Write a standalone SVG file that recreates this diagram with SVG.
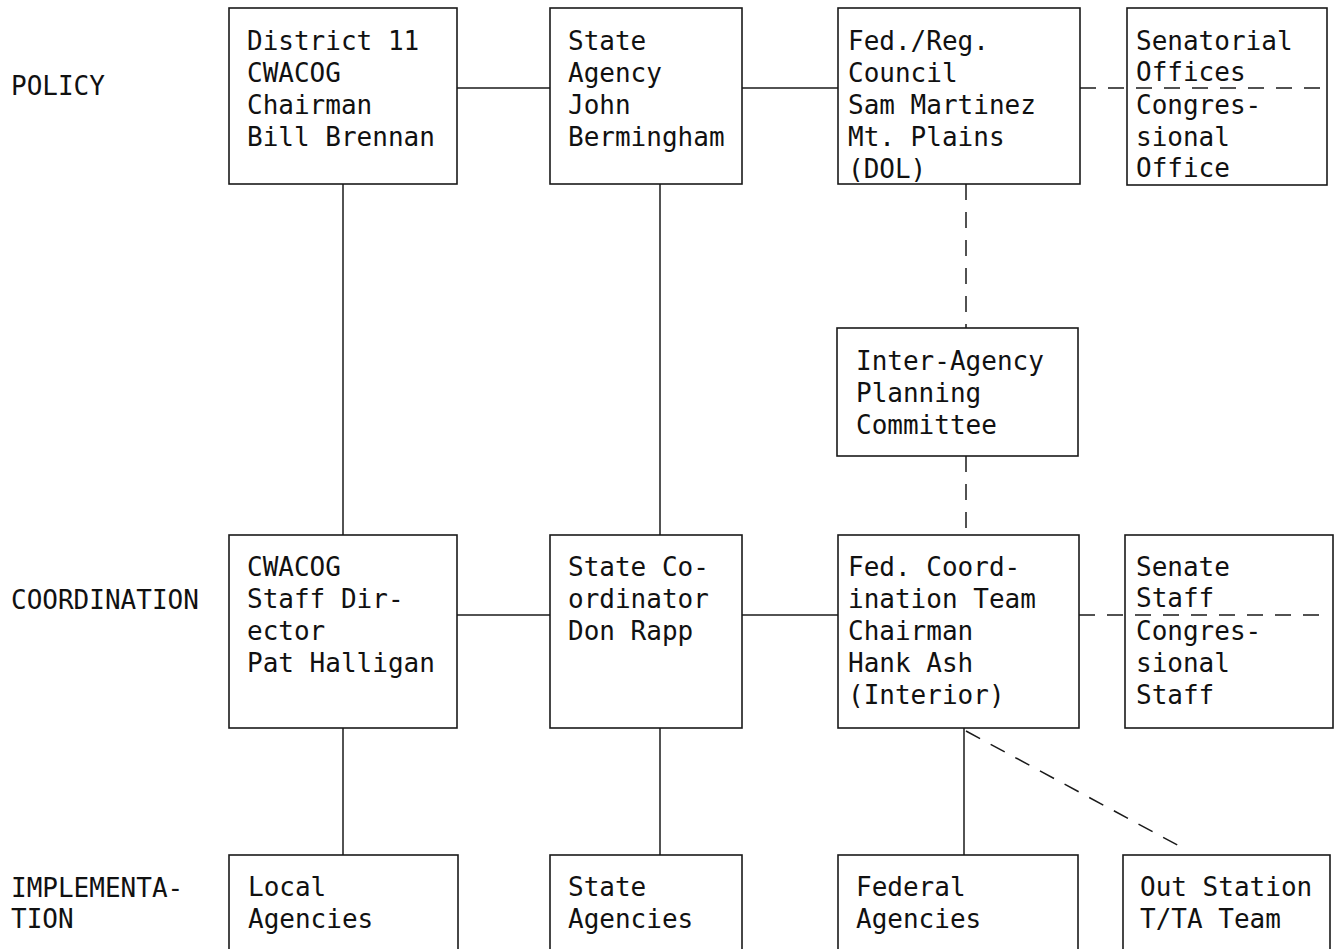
<svg xmlns="http://www.w3.org/2000/svg" width="1343" height="949" viewBox="0 0 1343 949">
<style>
.box{fill:none;stroke:#1a1a1a;stroke-width:1.6}
.ln{fill:none;stroke:#1a1a1a;stroke-width:1.5}
.dash{fill:none;stroke:#1a1a1a;stroke-width:1.5;stroke-dasharray:16 12}
text{font-family:"DejaVu Sans Mono","Liberation Mono",monospace;font-size:26px;fill:#111}
</style>
<rect width="1343" height="949" fill="#fff"/>
<g id="labels">
<text x="11" y="95">POLICY</text>
<text x="11" y="609">COORDINATION</text>
<text x="11" y="897">IMPLEMENTA-</text>
<text x="11" y="928">TION</text>
</g>
<g id="connectors">
<line class="ln" x1="457" y1="88" x2="550" y2="88"/>
<line class="ln" x1="742" y1="88" x2="838" y2="88"/>
<line class="dash" x1="1080" y1="88" x2="1327" y2="88"/>
<line class="ln" x1="343" y1="184" x2="343" y2="535"/>
<line class="ln" x1="660" y1="184" x2="660" y2="535"/>
<line class="dash" x1="966" y1="184" x2="966" y2="328"/>
<line class="dash" x1="966" y1="456" x2="966" y2="535"/>
<line class="ln" x1="457" y1="615" x2="550" y2="615"/>
<line class="ln" x1="742" y1="615" x2="838" y2="615"/>
<line class="dash" x1="1079" y1="615" x2="1322" y2="615"/>
<line class="ln" x1="343" y1="728" x2="343" y2="855"/>
<line class="ln" x1="660" y1="728" x2="660" y2="855"/>
<line class="ln" x1="964" y1="728" x2="964" y2="855"/>
<line class="dash" x1="966" y1="731" x2="1181" y2="847"/>
</g>
<g id="n-district">
<rect class="box" x="229" y="8" width="228" height="176"/>
<text x="247" y="50">District 11</text>
<text x="247" y="82">CWACOG</text>
<text x="247" y="114">Chairman</text>
<text x="247" y="146">Bill Brennan</text>
</g>
<g id="n-stateagency">
<rect class="box" x="550" y="8" width="192" height="176"/>
<text x="568" y="50">State</text>
<text x="568" y="82">Agency</text>
<text x="568" y="114">John</text>
<text x="568" y="146">Bermingham</text>
</g>
<g id="n-fedreg">
<rect class="box" x="838" y="8" width="242" height="176"/>
<text x="848" y="50">Fed./Reg.</text>
<text x="848" y="82">Council</text>
<text x="848" y="114">Sam Martinez</text>
<text x="848" y="146">Mt. Plains</text>
<text x="848" y="178">(DOL)</text>
</g>
<g id="n-senatorial">
<rect class="box" x="1127" y="8" width="200" height="177"/>
<text x="1136" y="50">Senatorial</text>
<text x="1136" y="81">Offices</text>
<text x="1136" y="114">Congres-</text>
<text x="1136" y="146">sional</text>
<text x="1136" y="177">Office</text>
</g>
<g id="n-interagency">
<rect class="box" x="837" y="328" width="241" height="128"/>
<text x="856" y="370">Inter-Agency</text>
<text x="856" y="402">Planning</text>
<text x="856" y="434">Committee</text>
</g>
<g id="n-cwacogstaff">
<rect class="box" x="229" y="535" width="228" height="193"/>
<text x="247" y="576">CWACOG</text>
<text x="247" y="608">Staff Dir-</text>
<text x="247" y="640">ector</text>
<text x="247" y="672">Pat Halligan</text>
</g>
<g id="n-statecoord">
<rect class="box" x="550" y="535" width="192" height="193"/>
<text x="568" y="576">State Co-</text>
<text x="568" y="608">ordinator</text>
<text x="568" y="640">Don Rapp</text>
</g>
<g id="n-fedcoord">
<rect class="box" x="838" y="535" width="241" height="193"/>
<text x="848" y="576">Fed. Coord-</text>
<text x="848" y="608">ination Team</text>
<text x="848" y="640">Chairman</text>
<text x="848" y="672">Hank Ash</text>
<text x="848" y="704">(Interior)</text>
</g>
<g id="n-senatestaff">
<rect class="box" x="1125" y="535" width="208" height="193"/>
<text x="1136" y="576">Senate</text>
<text x="1136" y="607">Staff</text>
<text x="1136" y="640">Congres-</text>
<text x="1136" y="672">sional</text>
<text x="1136" y="704">Staff</text>
</g>
<g id="n-local">
<rect class="box" x="229" y="855" width="229" height="110"/>
<text x="248" y="896">Local</text>
<text x="248" y="928">Agencies</text>
</g>
<g id="n-stateagencies">
<rect class="box" x="550" y="855" width="192" height="110"/>
<text x="568" y="896">State</text>
<text x="568" y="928">Agencies</text>
</g>
<g id="n-federal">
<rect class="box" x="838" y="855" width="240" height="110"/>
<text x="856" y="896">Federal</text>
<text x="856" y="928">Agencies</text>
</g>
<g id="n-outstation">
<rect class="box" x="1123" y="855" width="207" height="110"/>
<text x="1140" y="896">Out Station</text>
<text x="1140" y="928">T/TA Team</text>
</g>
</svg>
